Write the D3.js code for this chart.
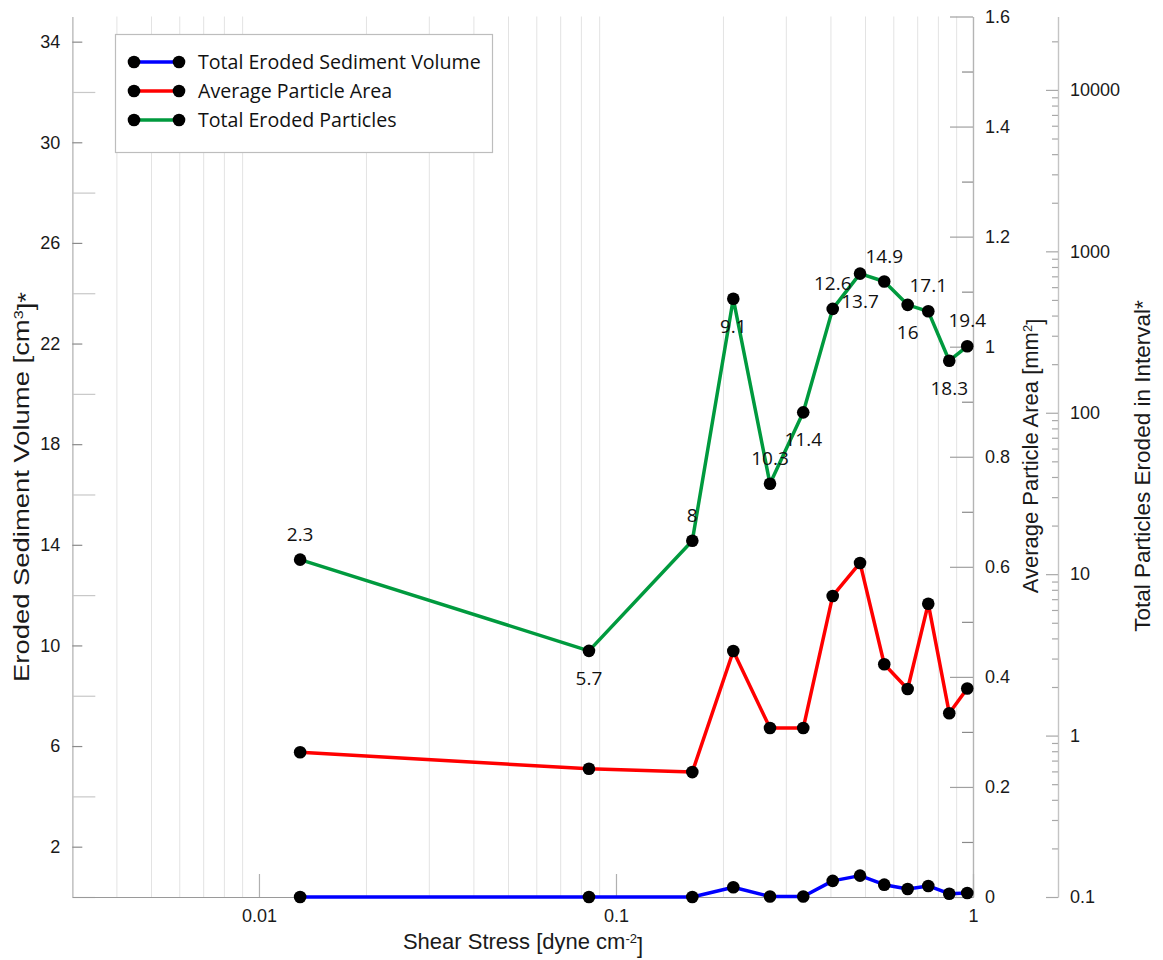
<!DOCTYPE html>
<html>
<head>
<meta charset="utf-8">
<script src="https://cdn.jsdelivr.net/npm/d3@7"></script>
<style>
  body { margin: 0; background: #fff; }
  svg { display: block; }
</style>
</head>
<body>
<svg id="chart" width="1163" height="960"></svg>
<script>
// Shear stress steps (dyne cm^-2) and the three measured series
const shearStress    = [0.01304, 0.0840, 0.1636, 0.2131, 0.2700, 0.3346, 0.4046, 0.4826, 0.5642, 0.6561, 0.7494, 0.8580, 0.9636];
const sedimentVolume = [0, 0, 0, 0.39, 0.02, 0.02, 0.64, 0.85, 0.49, 0.32, 0.44, 0.13, 0.16];
const particleArea   = [0.263, 0.233, 0.227, 0.447, 0.307, 0.307, 0.547, 0.607, 0.423, 0.378, 0.533, 0.334, 0.379];
const particleCount  = [12.3, 3.35, 16.1, 508, 36.3, 100.6, 440, 728, 650, 466, 425, 210, 258];
const pointLabels    = ["2.3", "5.7", "8", "9.1", "10.3", "11.4", "12.6", "13.7", "14.9", "16", "17.1", "18.3", "19.4"];

const seriesNames  = ["Total Eroded Sediment Volume", "Average Particle Area", "Total Eroded Particles"];
const seriesColors = ["#0000ff", "#ff0000", "#009a3e"];

// Tick values for each axis
const volumeTicks      = [2, 6, 10, 14, 18, 22, 26, 30, 34];
const volumeMinorTicks = [0, 4, 8, 12, 16, 20, 24, 28, 32];
const areaTicks        = [0, 0.2, 0.4, 0.6, 0.8, 1.0, 1.2, 1.4, 1.6];
const areaMinorTicks   = [0.1, 0.3, 0.5, 0.7, 0.9, 1.1, 1.3, 1.5];
const countTicks       = [0.1, 1, 10, 100, 1000, 10000];
const stressTicks      = [0.01, 0.1, 1];

const svg = d3.select("#chart");
const plotLeft = 72.3, plotRight = 973, plotTop = 16.5, plotBottom = 897, countAxisX = 1058;

const x      = d3.scaleLog().domain([0.003, 1]).range([plotLeft, plotRight]);
const yVol   = d3.scaleLinear().domain([0, 35]).range([plotBottom, plotTop]);
const yArea  = d3.scaleLinear().domain([0, 1.6]).range([plotBottom, plotTop]);
const yCount = d3.scaleLog().domain([0.1, 28500]).range([plotBottom, plotTop]);

const tickFont = "'Liberation Sans', Arial, sans-serif";
const labelFont = "'Open Sans', 'Noto Sans', sans-serif";

svg.append("rect").attr("width", 1163).attr("height", 960).attr("fill", "#fff");

// Minor vertical gridlines on the log shear-stress axis
const gridVals = x.ticks().filter(v => {
  const e = Math.round(Math.log10(v));
  return Math.abs(v - Math.pow(10, e)) > 1e-9 && v > 0.0031;
});
svg.append("g").selectAll("line").data(gridVals).join("line")
  .attr("x1", d => x(d)).attr("x2", d => x(d))
  .attr("y1", plotTop).attr("y2", plotBottom)
  .attr("stroke", "#e3e3e3").attr("stroke-width", 1);

function styleAxis(g, lineColor, tickColor) {
  g.select(".domain").attr("stroke", lineColor).attr("stroke-width", 1.2);
  g.selectAll(".tick line").attr("stroke", tickColor).attr("stroke-width", 1.2);
  g.selectAll(".tick text").attr("fill", "#1a1a1a")
    .style("font-family", tickFont).style("font-size", "18px");
}

// Left axis: sediment volume
svg.append("g").attr("transform", `translate(${plotLeft},0)`)
  .call(d3.axisLeft(yVol).tickValues(volumeMinorTicks).tickSize(-23).tickSizeOuter(0).tickFormat(""))
  .call(g => styleAxis(g, "#c4c4c4", "#c8c8c8"));
svg.append("g").attr("transform", `translate(${plotLeft},0)`)
  .call(d3.axisLeft(yVol).tickValues(volumeTicks).tickSize(-10).tickSizeOuter(0).tickPadding(12))
  .call(g => styleAxis(g, "#c4c4c4", "#8a8a8a"));

// Right axis: average particle area
svg.append("g").attr("transform", `translate(${plotRight},0)`)
  .call(d3.axisRight(yArea).tickValues(areaMinorTicks).tickSize(-11).tickSizeOuter(0).tickFormat(""))
  .call(g => styleAxis(g, "#b4b4b4", "#8a8a8a"));
svg.append("g").attr("transform", `translate(${plotRight},0)`)
  .call(d3.axisRight(yArea).tickValues(areaTicks).tickSize(-23).tickSizeOuter(0).tickPadding(12)
    .tickFormat(d => d === 0 ? "0" : (d === 1 ? "1" : d3.format(".1f")(d))))
  .call(g => styleAxis(g, "#b4b4b4", "#a0a0a0"));

// Outer right axis: particle count (log)
const countMinor = yCount.ticks().filter(v => !countTicks.some(c => Math.abs(c - v) < 1e-9));
svg.append("g").attr("transform", `translate(${countAxisX},0)`)
  .call(d3.axisRight(yCount).tickValues(countMinor).tickSize(-6).tickSizeOuter(0).tickFormat(""))
  .call(g => styleAxis(g, "#c4c4c4", "#a8a8a8"));
svg.append("g").attr("transform", `translate(${countAxisX},0)`)
  .call(d3.axisRight(yCount).tickValues(countTicks).tickSize(-12).tickSizeOuter(0).tickPadding(12)
    .tickFormat(d => d < 1 ? "0.1" : d3.format("d")(d)))
  .call(g => styleAxis(g, "#c4c4c4", "#a8a8a8"));

// Bottom axis: shear stress (log)
svg.append("g").attr("transform", `translate(0,${plotBottom})`)
  .call(d3.axisBottom(x).tickValues(stressTicks).tickSize(-23).tickSizeOuter(0).tickPadding(12)
    .tickFormat(d => d >= 1 ? "1" : String(d)))
  .call(g => styleAxis(g, "#9a9a9a", "#b0b0b0"));

// Axis titles
const titleFont = "'Liberation Sans', Arial, sans-serif";
function supTitle(g, main, sup, tail, length) {
  const t = g.append("text").attr("text-anchor", "middle")
    .style("font-family", titleFont).style("font-size", "22px").attr("fill", "#1a1a1a");
  t.append("tspan").text(main);
  t.append("tspan").attr("dy", "-0.45em").style("font-size", "13px").text(sup);
  t.append("tspan").attr("dy", "0.45em").text(tail);
  if (length) t.attr("textLength", length).attr("lengthAdjust", "spacingAndGlyphs");
  return t;
}
supTitle(svg.append("g").attr("transform", "translate(523,949)"), "Shear Stress [dyne cm", "-2", "]");
supTitle(svg.append("g").attr("transform", "translate(29,487) rotate(-90)"), "Eroded Sediment Volume [cm", "3", "]*", 390);
supTitle(svg.append("g").attr("transform", "translate(1038,456) rotate(-90)"), "Average Particle Area [mm", "2", "]");
svg.append("g").attr("transform", "translate(1150,466) rotate(-90)")
  .append("text").attr("text-anchor", "middle")
  .style("font-family", titleFont).style("font-size", "22.5px").attr("fill", "#1a1a1a")
  .text("Total Particles Eroded in Interval*");

// Series lines and markers
const series = [
  { values: sedimentVolume, y: yVol,   color: seriesColors[0] },
  { values: particleArea,   y: yArea,  color: seriesColors[1] },
  { values: particleCount,  y: yCount, color: seriesColors[2] }
];
series.forEach(s => {
  const line = d3.line().x((d, i) => x(shearStress[i])).y(d => s.y(d));
  svg.append("path").datum(s.values)
    .attr("d", line).attr("fill", "none")
    .attr("stroke", s.color).attr("stroke-width", 3.5).attr("stroke-linejoin", "round");
});
series.forEach(s => {
  svg.append("g").selectAll("circle").data(s.values).join("circle")
    .attr("cx", (d, i) => x(shearStress[i])).attr("cy", d => s.y(d))
    .attr("r", 6.3).attr("fill", "#000");
});

// Interval labels on the particle-count series, alternating above/below
svg.append("g").selectAll("text").data(particleCount).join("text")
  .attr("x", (d, i) => x(shearStress[i]))
  .attr("y", (d, i) => yCount(d) + (i % 2 === 0 ? -19 : 34))
  .attr("text-anchor", "middle")
  .style("font-family", labelFont).style("font-size", "19px").attr("fill", "#111")
  .text((d, i) => pointLabels[i]);

// Legend
const legend = svg.append("g");
legend.append("rect").attr("x", 115.5).attr("y", 34.5).attr("width", 377).attr("height", 118)
  .attr("fill", "#fff").attr("stroke", "#bdbdbd").attr("stroke-width", 1.2);
const rowY = [62, 91, 120];
seriesNames.forEach((name, i) => {
  const r = legend.append("g").attr("transform", `translate(0,${rowY[i]})`);
  r.append("line").attr("x1", 134).attr("x2", 179).attr("y1", 0).attr("y2", 0)
    .attr("stroke", seriesColors[i]).attr("stroke-width", 3.5);
  r.append("circle").attr("cx", 134).attr("cy", 0).attr("r", 6.3).attr("fill", "#000");
  r.append("circle").attr("cx", 179).attr("cy", 0).attr("r", 6.3).attr("fill", "#000");
  r.append("text").attr("x", 198).attr("y", 0).attr("dy", "0.35em")
    .style("font-family", labelFont).style("font-size", "19.6px").attr("fill", "#111")
    .text(name);
});
</script>
</body>
</html>
